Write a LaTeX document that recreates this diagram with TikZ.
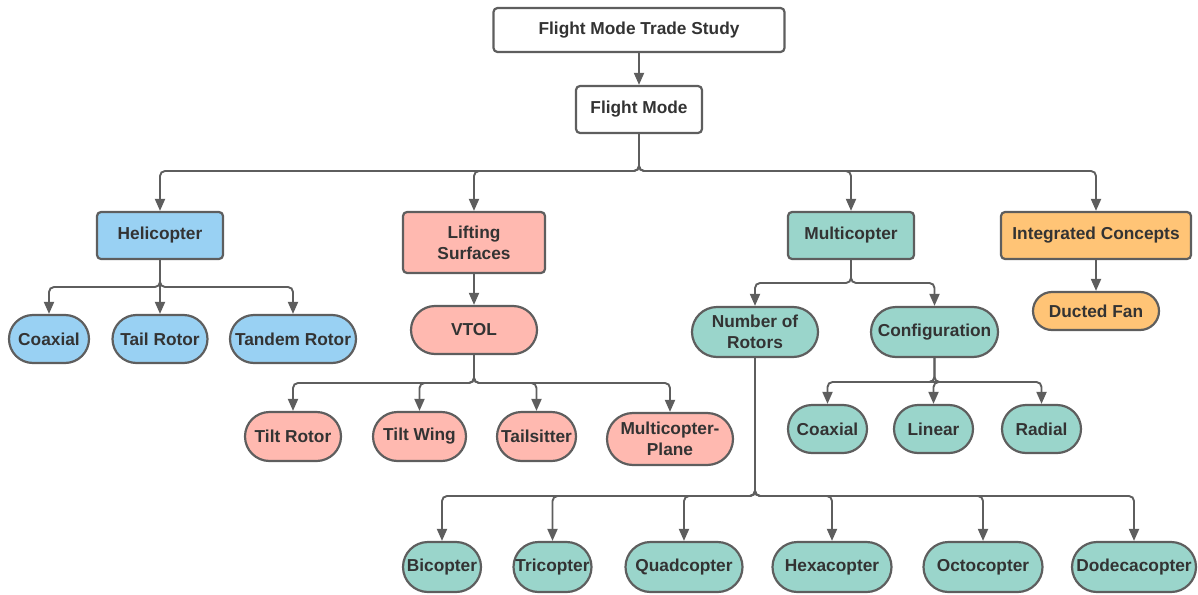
\documentclass[tikz,border=0pt]{standalone}
\usepackage{fontspec}
\setmainfont{Liberation Sans}
\usetikzlibrary{arrows.meta,shapes.misc}
\definecolor{edge}{HTML}{5E5E5E}
\definecolor{ink}{HTML}{333333}
\definecolor{heliblue}{HTML}{99D1F3}
\definecolor{liftpink}{HTML}{FFB9B0}
\definecolor{multiteal}{HTML}{9AD5CB}
\definecolor{intorange}{HTML}{FFC476}
\begin{document}
\begin{tikzpicture}[x=1pt,y=-1pt,
  base/.style={draw=edge, line width=2.2pt, text=ink, align=center,
    font=\fontsize{17.3}{21}\selectfont\bfseries, inner sep=0pt},
  box/.style={base, rectangle, rounded corners=4pt},
  leaf/.style={base, rounded rectangle},
  sz/.style 2 args={minimum width=#1pt, minimum height=#2pt},
  link/.style={draw=edge, line width=1.9pt, rounded corners=5pt,
    -{Triangle[length=12pt,width=10pt]}}]
\useasboundingbox (0,0) rectangle (1198,594);

% root and mode
\node[box, fill=white, sz={291}{44}] (study) at (639,30) {Flight Mode Trade Study};
\node[box, fill=white, sz={126}{47}] (mode) at (639,109.5) {Flight Mode};

% families
\node[box, fill=heliblue, sz={126}{47}] (heli) at (160,235.5) {Helicopter};
\node[box, fill=liftpink, sz={142}{61}] (lift) at (474,242.5) {Lifting\\Surfaces};
\node[box, fill=multiteal, sz={126}{47}] (multi) at (851,235.5) {Multicopter};
\node[box, fill=intorange, sz={190}{47}] (integ) at (1096,235.5) {Integrated Concepts};

% helicopter types
\node[leaf, fill=heliblue, sz={80}{48}] (hcoax) at (49,339) {Coaxial};
\node[leaf, fill=heliblue, sz={95}{48}] (tail) at (160,339) {Tail Rotor};
\node[leaf, fill=heliblue, sz={126}{48}] (tandem) at (293,339) {Tandem Rotor};

% lifting surfaces
\node[leaf, fill=liftpink, sz={126}{48}] (vtol) at (474,330) {VTOL};
\node[leaf, fill=liftpink, sz={96}{49}] (tiltrotor) at (293,436.5) {Tilt Rotor};
\node[leaf, fill=liftpink, sz={93}{49}] (tiltwing) at (419.5,436.5) {Tilt Wing};
\node[leaf, fill=liftpink, sz={79}{49}] (tailsitter) at (536.5,436.5) {Tailsitter};
\node[leaf, fill=liftpink, sz={126}{52}] (mcplane) at (670,439) {Multicopter-\\Plane};

% multicopter
\node[leaf, fill=multiteal, sz={126}{50}] (nrot) at (755,332) {Number of\\Rotors};
\node[leaf, fill=multiteal, sz={127}{50}] (config) at (934.5,332) {Configuration};
\node[leaf, fill=multiteal, sz={79}{48}] (mcoax) at (827.5,429) {Coaxial};
\node[leaf, fill=multiteal, sz={79}{48}] (linear) at (933.5,429) {Linear};
\node[leaf, fill=multiteal, sz={79}{48}] (radial) at (1041.5,429) {Radial};

% rotor counts
\node[leaf, fill=multiteal, sz={78}{50}] (bi) at (442,567) {Bicopter};
\node[leaf, fill=multiteal, sz={78}{50}] (tri) at (552.5,567) {Tricopter};
\node[leaf, fill=multiteal, sz={117}{50}] (quad) at (684,567) {Quadcopter};
\node[leaf, fill=multiteal, sz={119}{50}] (hexa) at (832,567) {Hexacopter};
\node[leaf, fill=multiteal, sz={119}{50}] (octo) at (983,567) {Octocopter};
\node[leaf, fill=multiteal, sz={124}{50}] (dodeca) at (1134,567) {Dodecacopter};

% integrated concepts
\node[leaf, fill=intorange, sz={126}{38}] (ducted) at (1096,311) {Ducted Fan};

% connectors
\draw[link] (study) -- (mode);
\foreach \c in {heli,lift,multi,integ}
  \draw[link] (mode.south) -- (mode.south |- 0,171) -| (\c.north);
\foreach \c in {hcoax,tail,tandem}
  \draw[link] (heli.south) -- (heli.south |- 0,287) -| (\c.north);
\draw[link] (lift) -- (vtol);
\foreach \c in {tiltrotor,tiltwing,tailsitter,mcplane}
  \draw[link] (vtol.south) -- (vtol.south |- 0,383) -| (\c.north);
\foreach \c in {nrot,config}
  \draw[link] (multi.south) -- (multi.south |- 0,283) -| (\c.north);
\foreach \c in {mcoax,linear,radial}
  \draw[link] (config.south) -- (config.south |- 0,382) -| (\c.north);
\foreach \c in {bi,tri,quad,hexa,octo,dodeca}
  \draw[link] (nrot.south) -- (nrot.south |- 0,496) -| (\c.north);
\draw[link] (integ) -- (ducted);
\end{tikzpicture}
\end{document}
